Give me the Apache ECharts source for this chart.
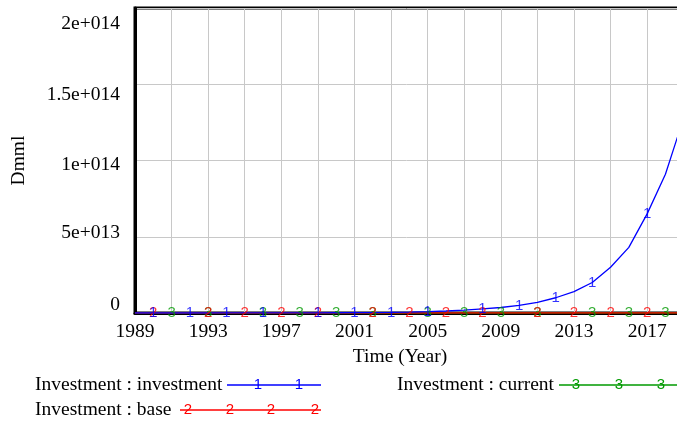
<!DOCTYPE html>
<html>
<head>
<meta charset="utf-8">
<script src="https://cdn.jsdelivr.net/npm/echarts@6/dist/echarts.min.js"></script>
<style>
    html, body { margin: 0; padding: 0; background: #fff; }
    #chart { width: 677px; height: 427px; }
</style>
</head>
<body>
<div id="chart"></div>
<script>
var years = [1989, 1990, 1991, 1992, 1993, 1994, 1995, 1996, 1997, 1998, 1999, 2000, 2001, 2002, 2003, 2004,
    2005, 2006, 2007, 2008, 2009, 2010, 2011, 2012, 2013, 2014, 2015, 2016, 2017, 2018, 2019];

// Investment : investment (1)
var investment = [3e9, 4e9, 6e9, 9e9, 1.3e10, 1.8e10, 2.5e10, 3.5e10, 5e10, 7e10, 1e11, 1.5e11, 2e11, 3e11, 4e11, 6e11,
    9e11, 1.3e12, 1.9e12, 2.7e12, 3.6e12, 5e12, 7e12, 1e13, 1.4e13, 2e13, 3e13, 4.3e13, 6.5e13, 9.1e13, 1.28e14];

// Investment : base (2)
var base = [0, 0, 0, 0, 0, 0, 0, 0, 0, 0, 0, 0, 0, 0, 0, 0,
    0, 0, 0, 0, 0, 0, 0, 0, 0, 0, 0, 0, 0, 0, 0];

// Investment : current (3)
var current = [0, 0, 0, 0, 0, 0, 0, 0, 0, 0, 0, 0, 0, 0, 0, 0,
    0, 0, 0, 0, 0, 0, 0, 0, 0, 0, 0, 0, 0, 0, 0];

// years where the number markers sit on each line
var investmentMarks = [1990, 1992, 1994, 1996, 1999, 2001, 2003, 2005, 2008, 2010, 2012, 2014, 2017];
var baseMarks = [1990, 1993, 1995, 1997, 1999, 2002, 2004, 2006, 2008, 2011, 2013, 2015, 2017];
var currentMarks = [1991, 1993, 1996, 1998, 2000, 2002, 2005, 2007, 2009, 2011, 2014, 2016, 2018];

var seriesNames = ['Investment : investment', 'Investment : base', 'Investment : current'];
var yTickLabels = ['0', '5e+013', '1e+014', '1.5e+014', '2e+014'];

(function() {
    'use strict';

    var SERIF = '"Liberation Serif", "DejaVu Serif", serif';
    var SANS = '"Liberation Sans", Arial, sans-serif';
    var FS = 19.5;
    var MARK_FS = 15;

    var lines = [
        { name : seriesNames[2], values : current, marks : currentMarks, mark : '3', color : '#009a00', z : 2 },
        { name : seriesNames[1], values : base, marks : baseMarks, mark : '2', color : '#ff0000', z : 3 },
        { name : seriesNames[0], values : investment, marks : investmentMarks, mark : '1', color : '#0000ff', z : 4 }
    ];

    var series = [];
    lines.forEach(function(l) {
        series.push({
            name : l.name,
            type : 'line',
            z : l.z,
            symbol : 'none',
            silent : true,
            animation : false,
            lineStyle : { color : l.color, width : 1.3 },
            data : years.map(function(y, i) { return [y, l.values[i]]; })
        });
        series.push({
            name : l.name,
            type : 'scatter',
            z : l.z + 3,
            symbol : 'rect',
            symbolSize : 1,
            silent : true,
            animation : false,
            itemStyle : { color : 'transparent' },
            label : {
                show : true,
                position : 'inside',
                formatter : l.mark,
                color : l.color,
                fontFamily : SANS,
                fontSize : MARK_FS
            },
            data : l.marks.map(function(y) { return [y, l.values[years.indexOf(y)]]; })
        });
    });

    // y labels in Vensim are nudged off their grid lines
    var nudge = [[0, 0, 16, 0], [0, 0, 8, 0], [9, 0, 0, 0], [21, 0, 0, 0], [32, 0, 0, 0]];
    var rich = {};
    nudge.forEach(function(p, i) {
        rich['s' + i] = { padding : p, fontFamily : SERIF, fontSize : FS, color : '#000' };
    });

    // legend drawn by hand, Vensim style
    var graphics = [];
    function legendRow(x, y, text, color, mark, x1, x2, markXs) {
        graphics.push({ type : 'text', left : x, top : y - 10,
            style : { text : text, fontFamily : SERIF, fontSize : FS, fill : '#000' } });
        graphics.push({ type : 'line', shape : { x1 : x1, y1 : y, x2 : x2, y2 : y },
            style : { stroke : color, lineWidth : 1.3 } });
        markXs.forEach(function(mx) {
            graphics.push({ type : 'text', x : mx, y : y,
                style : { text : mark, fontFamily : SANS, fontSize : MARK_FS, fill : color,
                    align : 'center', verticalAlign : 'middle' } });
        });
    }
    legendRow(35, 385, seriesNames[0], '#0000ff', '1', 227, 321, [258, 299]);
    legendRow(397, 385, seriesNames[2], '#009a00', '3', 559, 677, [576, 619, 661]);
    legendRow(35, 410, seriesNames[1], '#ff0000', '2', 180, 321, [188, 230, 271, 315]);

    var option = {
        backgroundColor : '#fff',
        animation : false,
        grid : {
            left : 135,
            top : 8,
            width : 567,
            height : 305,
            outerBoundsMode : 'none',
            containLabel : false,
            show : true,
            borderColor : '#000',
            borderWidth : 3,
            backgroundColor : 'transparent'
        },
        xAxis : {
            type : 'value',
            min : 1989,
            max : 2020,
            interval : 2,
            name : 'Time (Year)',
            nameLocation : 'middle',
            nameGap : 31,
            nameTextStyle : { fontFamily : SERIF, fontSize : FS, color : '#000', padding : [0, 37, 0, 0] },
            axisLine : { lineStyle : { color : '#000', width : 3 } },
            axisTick : { show : false },
            axisLabel : {
                margin : 9,
                fontFamily : SERIF,
                fontSize : FS,
                color : '#000',
                formatter : function(v) { return (v - 1989) % 4 === 0 ? String(v) : ''; }
            },
            splitLine : { show : true, lineStyle : { color : '#c8c8c8', width : 1 } }
        },
        yAxis : {
            type : 'value',
            min : 0,
            max : 2e14,
            interval : 5e13,
            name : 'Dmml',
            nameLocation : 'middle',
            nameGap : 106,
            nameTextStyle : { fontFamily : SERIF, fontSize : FS, color : '#000' },
            axisLine : { show : true, lineStyle : { color : '#000', width : 3 } },
            axisTick : { show : false },
            axisLabel : {
                margin : 15,
                fontFamily : SERIF,
                fontSize : FS,
                color : '#000',
                rich : rich,
                formatter : function(v, idx) { return '{s' + idx + '|' + yTickLabels[idx] + '}'; }
            },
            splitLine : { show : true, lineStyle : { color : '#c8c8c8', width : 1 } }
        },
        graphic : graphics,
        series : series
    };

    var myChart = echarts.init(document.getElementById('chart'), null, { renderer : 'canvas' });
    myChart.setOption(option);
})();
</script>
</body>
</html>
